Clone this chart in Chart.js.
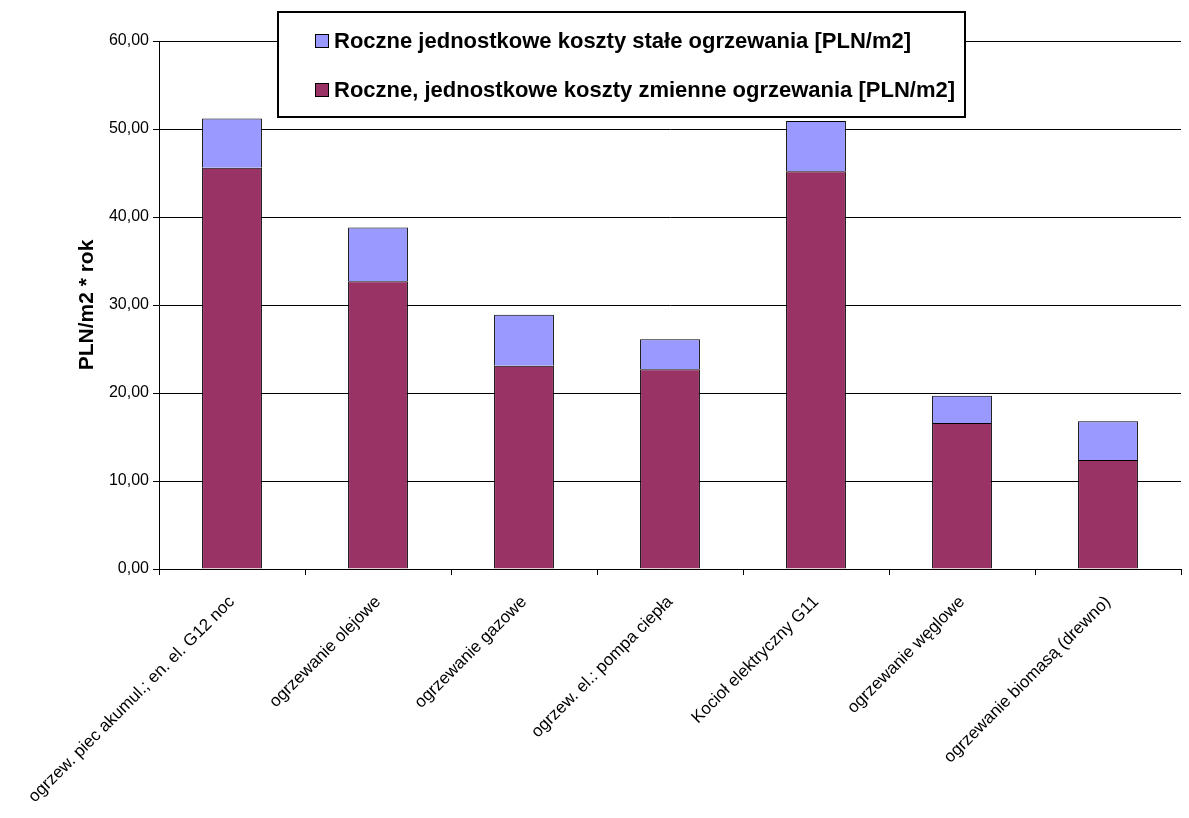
<!DOCTYPE html>
<html>
<head>
<meta charset="utf-8">
<script src="https://cdn.jsdelivr.net/npm/chart.js@4"></script>
<style>
  html, body { margin: 0; padding: 0; background: #fff; }
  canvas { display: block; }
</style>
</head>
<body>
<canvas id="chart" width="1189" height="818"></canvas>
<script>
// Heating options compared by annual cost per square metre
const categories = [
  'ogrzew. piec akumul.; en. el. G12 noc',
  'ogrzewanie olejowe',
  'ogrzewanie gazowe',
  'ogrzew. el.: pompa ciepła',
  'Kocioł elektryczny G11',
  'ogrzewanie węglowe',
  'ogrzewanie biomasą (drewno)'
];

// Variable (running) costs, PLN/m2 per year
const variableCosts = [45.6, 32.7, 23.1, 22.7, 45.2, 16.6, 12.4];

// Fixed costs, PLN/m2 per year (stacked on top of the variable part)
const fixedCosts = [5.6, 6.1, 5.8, 3.4, 5.7, 3.1, 4.4];

// Value axis ticks
const yTickValues = [0, 10, 20, 30, 40, 50, 60];

const variableLabel = 'Roczne, jednostkowe koszty zmienne ogrzewania [PLN/m2]';
const fixedLabel = 'Roczne jednostkowe koszty stałe ogrzewania [PLN/m2]';

const FONT = 'Arial, "Liberation Sans", sans-serif';
Chart.defaults.font.family = FONT;
Chart.defaults.color = '#000';

// Framed legend box drawn over the upper part of the plot
const boxLegend = {
  id: 'boxLegend',
  afterDraw(chart) {
    const ctx = chart.ctx;
    const x0 = 278, y0 = 12, x1 = 965, y1 = 117;
    ctx.save();
    ctx.fillStyle = '#fff';
    ctx.fillRect(x0, y0, x1 - x0, y1 - y0);
    ctx.lineWidth = 2;
    ctx.strokeStyle = '#000';
    ctx.strokeRect(x0, y0, x1 - x0, y1 - y0);

    const items = chart.data.datasets.slice().reverse();
    const rows = [41, 90];
    ctx.font = 'bold 22px ' + FONT;
    ctx.textBaseline = 'middle';
    ctx.textAlign = 'left';
    items.forEach((ds, i) => {
      const y = rows[i];
      ctx.fillStyle = ds.backgroundColor;
      ctx.fillRect(315.5, y - 6.5, 13, 13);
      ctx.lineWidth = 1;
      ctx.strokeStyle = '#000';
      ctx.strokeRect(315.5, y - 6.5, 13, 13);
      ctx.fillStyle = '#000';
      ctx.fillText(ds.label, 334, y + 1);
    });
    ctx.restore();
  }
};

new Chart(document.getElementById('chart'), {
  type: 'bar',
  data: {
    labels: categories,
    datasets: [
      {
        label: variableLabel,
        data: variableCosts,
        backgroundColor: '#993366',
        borderColor: '#000',
        borderWidth: 1,
        categoryPercentage: 1,
        barPercentage: 0.41
      },
      {
        label: fixedLabel,
        data: fixedCosts,
        backgroundColor: '#9999FF',
        borderColor: '#000',
        borderWidth: 1,
        categoryPercentage: 1,
        barPercentage: 0.41
      }
    ]
  },
  options: {
    responsive: false,
    animation: false,
    layout: { padding: { left: 0, right: 8, top: 41, bottom: 0 } },
    plugins: {
      legend: { display: false },
      tooltip: { enabled: false }
    },
    scales: {
      x: {
        stacked: true,
        grid: {
          display: true,
          drawOnChartArea: false,
          drawTicks: true,
          tickLength: 6,
          color: '#000',
          offset: true
        },
        border: { display: true, color: '#000', width: 1 },
        ticks: {
          autoSkip: false,
          minRotation: 45,
          maxRotation: 45,
          padding: 17,
          color: '#000',
          font: { size: 17 }
        },
        afterFit(scale) { scale.height = 249; }
      },
      y: {
        stacked: true,
        min: 0,
        max: 60,
        afterBuildTicks(scale) {
          scale.ticks = yTickValues.map(v => ({ value: v }));
        },
        grid: { color: '#000', lineWidth: 1, tickLength: 6 },
        border: { display: true, color: '#000', width: 1 },
        ticks: {
          padding: 4,
          color: '#000',
          font: { size: 16 },
          callback: v => Number(v).toFixed(2).replace('.', ',')
        },
        title: {
          display: true,
          text: 'PLN/m2 * rok',
          color: '#000',
          font: { size: 21, weight: 'bold' },
          padding: { top: 75, bottom: 0 }
        },
        afterFit(scale) { scale.width = 159; }
      }
    }
  },
  plugins: [boxLegend]
});
</script>
</body>
</html>
